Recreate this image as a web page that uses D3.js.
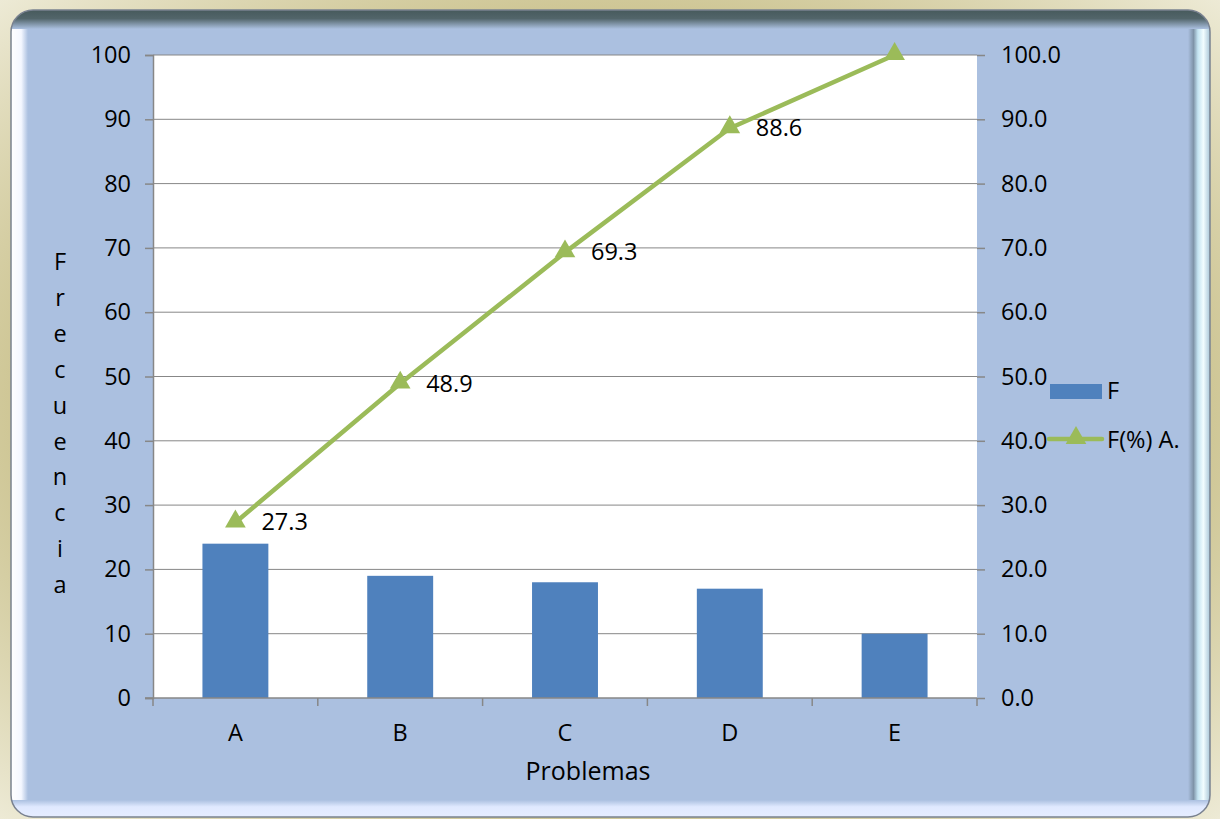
<!DOCTYPE html>
<html>
<head>
<meta charset="utf-8">
<script src="https://cdn.jsdelivr.net/npm/d3@7"></script>
<style>
body { margin: 0; background: #fff; }
text { font-family: "Open Sans", sans-serif; fill: #000; }
</style>
</head>
<body>
<div id="chart"></div>
<script>
// Chart data
var categories = ["A", "B", "C", "D", "E"];
var freq = [24, 19, 18, 17, 10];
var cumPct = [27.3, 48.9, 69.3, 88.6, 100.0];
var leftTicks = [0, 10, 20, 30, 40, 50, 60, 70, 80, 90, 100];
var yTitle = "Frecuencia";
var xTitle = "Problemas";
var legendNames = ["F", "F(%) A."];

// SVG size
var svgWdt = 1220;
var svgHgt = 819;
var margins = { top: 55, right: 243, bottom: 121, left: 153 };
var chtWdt = svgWdt - margins.left - margins.right;
var chtHgt = svgHgt - margins.top - margins.bottom;
var fontPx = "23.5px";

var svg = d3.select("#chart").append("svg")
    .attr("width", svgWdt)
    .attr("height", svgHgt);

var defs = svg.append("defs");

// outer beige glow
var outerGrad = defs.append("radialGradient").attr("id", "outerGrad")
    .attr("cx", "50%").attr("cy", "50%").attr("r", "75%");
outerGrad.append("stop").attr("offset", "60%").attr("stop-color", "#c9c08a");
outerGrad.append("stop").attr("offset", "100%").attr("stop-color", "#f3f1e2");

// dark top edge
var topGrad = defs.append("linearGradient").attr("id", "topGrad")
    .attr("x1", 0).attr("y1", 0).attr("x2", 0).attr("y2", 1);
topGrad.append("stop").attr("offset", "0%").attr("stop-color", "#475a5c");
topGrad.append("stop").attr("offset", "45%").attr("stop-color", "#52656a");
topGrad.append("stop").attr("offset", "100%").attr("stop-color", "#abc0e0");

// left white edge
var leftGrad = defs.append("linearGradient").attr("id", "leftGrad")
    .attr("x1", 0).attr("y1", 0).attr("x2", 1).attr("y2", 0);
leftGrad.append("stop").attr("offset", "0%").attr("stop-color", "#ffffff");
leftGrad.append("stop").attr("offset", "60%").attr("stop-color", "#f4f7ff");
leftGrad.append("stop").attr("offset", "100%").attr("stop-color", "#abc0e0");

// right edge
var rightGrad = defs.append("linearGradient").attr("id", "rightGrad")
    .attr("x1", 0).attr("y1", 0).attr("x2", 1).attr("y2", 0);
rightGrad.append("stop").attr("offset", "0%").attr("stop-color", "#abc0e0");
rightGrad.append("stop").attr("offset", "25%").attr("stop-color", "#7f93a8");
rightGrad.append("stop").attr("offset", "45%").attr("stop-color", "#c4e4f2");
rightGrad.append("stop").attr("offset", "70%").attr("stop-color", "#f2fdff");
rightGrad.append("stop").attr("offset", "100%").attr("stop-color", "#a9c6d8");

// bottom edge
var botGrad = defs.append("linearGradient").attr("id", "botGrad")
    .attr("x1", 0).attr("y1", 0).attr("x2", 0).attr("y2", 1);
botGrad.append("stop").attr("offset", "0%").attr("stop-color", "#abc0e0");
botGrad.append("stop").attr("offset", "40%").attr("stop-color", "#e0e9ff");
botGrad.append("stop").attr("offset", "100%").attr("stop-color", "#e6edff");

defs.append("clipPath").attr("id", "panelClip")
    .append("rect")
    .attr("x", 11).attr("y", 10).attr("width", 1199).attr("height", 807).attr("rx", 22);

svg.append("rect").attr("width", svgWdt).attr("height", svgHgt).attr("fill", "url(#outerGrad)");

// panel
var panel = svg.append("g").attr("clip-path", "url(#panelClip)");
panel.append("rect")
    .attr("x", 11).attr("y", 10).attr("width", 1199).attr("height", 807)
    .attr("fill", "#abc0e0");
panel.append("rect").attr("x", 11).attr("y", 10).attr("width", 17).attr("height", 807).attr("fill", "url(#leftGrad)");
panel.append("rect").attr("x", 1188).attr("y", 10).attr("width", 22).attr("height", 807).attr("fill", "url(#rightGrad)");
panel.append("rect").attr("x", 11).attr("y", 800).attr("width", 1199).attr("height", 17).attr("fill", "url(#botGrad)");
panel.append("rect").attr("x", 11).attr("y", 10).attr("width", 1199).attr("height", 19).attr("fill", "url(#topGrad)");
svg.append("rect")
    .attr("x", 11).attr("y", 10).attr("width", 1199).attr("height", 807)
    .attr("rx", 22)
    .attr("fill", "none")
    .attr("stroke", "#7a8290").attr("stroke-width", 1.5);

var chtGrp = svg.append("g")
    .attr("transform", `translate(${margins.left}, ${margins.top})`);

// scales
var xScale = d3.scaleBand().domain(categories).range([0, chtWdt]).paddingInner(0.6).paddingOuter(0.3);
var xPoint = d3.scaleBand().domain(categories).range([0, chtWdt]);
var yScale = d3.scaleLinear().domain([0, 100]).range([chtHgt, 0]);
var y2Scale = d3.scaleLinear().domain([0, 100]).range([chtHgt, 0]);

// plot area
chtGrp.append("rect").attr("width", chtWdt).attr("height", chtHgt).attr("fill", "#fff");

// gridlines
chtGrp.selectAll(".grid").data(leftTicks.slice(1))
    .enter().append("line")
    .attr("x1", 0).attr("x2", chtWdt)
    .attr("y1", d => yScale(d)).attr("y2", d => yScale(d))
    .attr("stroke", "#878787").attr("stroke-width", 1);

// bars
chtGrp.selectAll(".bar").data(freq)
    .enter().append("rect")
    .attr("x", (d, i) => xScale(categories[i]))
    .attr("y", d => yScale(d))
    .attr("width", xScale.bandwidth())
    .attr("height", d => chtHgt - yScale(d))
    .attr("fill", "#4f81bd");

// axes
var lftRule = d3.axisLeft(yScale).tickValues(leftTicks).tickSize(8).tickPadding(14);
var rgtRule = d3.axisRight(y2Scale).tickValues(leftTicks).tickSize(8).tickPadding(16).tickFormat(d3.format(".1f"));
var botRule = d3.axisBottom(xPoint).tickSize(0).tickPadding(26);

var yAxis = chtGrp.append("g").call(lftRule);
var y2Axis = chtGrp.append("g").attr("transform", `translate(${chtWdt}, 0)`).call(rgtRule);
var xAxis = chtGrp.append("g").attr("transform", `translate(0, ${chtHgt})`).call(botRule);

[yAxis, y2Axis, xAxis].forEach(a => {
    a.select(".domain").attr("stroke", "#878787").attr("stroke-width", 1.5);
    a.selectAll(".tick line").attr("stroke", "#878787").attr("stroke-width", 1.5);
    a.selectAll("text").style("font-size", fontPx).attr("fill", "#000");
});
y2Axis.select(".domain").attr("stroke", "none");
xAxis.select(".domain").attr("d", `M-8,0H${chtWdt}`);

// category boundary ticks on x axis
chtGrp.selectAll(".xb").data(d3.range(categories.length + 1))
    .enter().append("line")
    .attr("x1", d => d * xPoint.step()).attr("x2", d => d * xPoint.step())
    .attr("y1", chtHgt).attr("y2", chtHgt + 8)
    .attr("stroke", "#878787").attr("stroke-width", 1.5);

// cumulative line
var line = d3.line()
    .x((d, i) => xPoint(categories[i]) + xPoint.bandwidth() / 2)
    .y(d => y2Scale(d));

chtGrp.append("path").datum(cumPct)
    .attr("d", line)
    .attr("fill", "none")
    .attr("stroke", "#9bbb59")
    .attr("stroke-width", 4.5)
    .attr("stroke-linejoin", "round");

var tri = d3.symbol().type(d3.symbolTriangle).size(185);
chtGrp.selectAll(".mk").data(cumPct)
    .enter().append("path")
    .attr("d", tri)
    .attr("transform", (d, i) => `translate(${xPoint(categories[i]) + xPoint.bandwidth() / 2}, ${y2Scale(d) - 1})`)
    .attr("fill", "#9bbb59");

chtGrp.selectAll(".lbl").data(cumPct.slice(0, 4))
    .enter().append("text")
    .attr("x", (d, i) => xPoint(categories[i]) + xPoint.bandwidth() / 2 + 26)
    .attr("y", d => y2Scale(d) + 8)
    .style("font-size", fontPx)
    .text(d => d.toFixed(1));

// axis titles
svg.selectAll(".yt").data(yTitle.split(""))
    .enter().append("text")
    .attr("x", 60)
    .attr("y", (d, i) => 270 + i * 35.9)
    .attr("text-anchor", "middle")
    .style("font-size", fontPx)
    .text(d => d);

svg.append("text")
    .attr("x", 588)
    .attr("y", 780)
    .attr("text-anchor", "middle")
    .style("font-size", "25px")
    .text(xTitle);

// legend
var leg = svg.append("g");
leg.append("rect").attr("x", 1050).attr("y", 384).attr("width", 52).attr("height", 15).attr("fill", "#4f81bd");
leg.append("text").attr("x", 1107).attr("y", 399).style("font-size", fontPx).text(legendNames[0]);
leg.append("line").attr("x1", 1049).attr("x2", 1102).attr("y1", 439).attr("y2", 439)
    .attr("stroke", "#9bbb59").attr("stroke-width", 4.5).attr("stroke-linecap", "round");
leg.append("path").attr("d", tri).attr("transform", "translate(1076, 438)").attr("fill", "#9bbb59");
leg.append("text").attr("x", 1107).attr("y", 448).style("font-size", fontPx).text(legendNames[1]);
</script>
</body>
</html>
